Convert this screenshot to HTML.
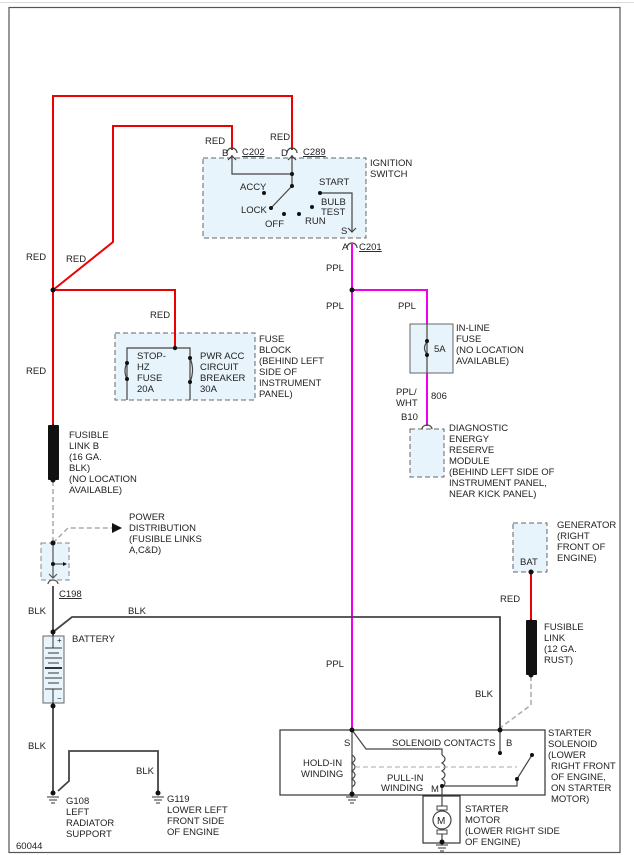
<!DOCTYPE html>
<html><head><style>
html,body{margin:0;padding:0;background:#fff;}
svg{display:block;}
text{font-family:"Liberation Sans",sans-serif;font-size:9.5px;fill:#222;}
.u{text-decoration:underline;}
</style></head><body>
<svg width="634" height="855" viewBox="0 0 634 855" xmlns="http://www.w3.org/2000/svg">
<rect x="0" y="0" width="634" height="855" fill="#fff"/>
<line x1="0" y1="2.5" x2="634" y2="2.5" stroke="#ddd" stroke-width="1"/>
<rect x="9" y="7.5" width="611" height="845" fill="none" stroke="#555" stroke-width="1.2"/>

<!-- boxes -->
<rect x="203" y="158" width="163" height="80" fill="#e8f4fb" stroke="#666" stroke-dasharray="5,3"/>
<rect x="115" y="333" width="140" height="67" fill="#e8f4fb" stroke="#666" stroke-dasharray="5,3"/>
<rect x="410" y="324" width="43" height="49" fill="#e8f4fb" stroke="#666"/>
<rect x="410" y="429" width="34" height="48" fill="#e8f4fb" stroke="#666" stroke-dasharray="5,3"/>
<rect x="41" y="543" width="28" height="37" fill="#e8f4fb" stroke="#888" stroke-dasharray="5,3"/>
<rect x="513" y="523" width="34" height="49" fill="#e8f4fb" stroke="#666" stroke-dasharray="5,3"/>
<rect x="43" y="636" width="21" height="67" fill="#e8f4fb" stroke="#666"/>
<rect x="280" y="730" width="265" height="65" fill="#fff" stroke="#333" stroke-width="1.2"/>
<rect x="423" y="796" width="37" height="47" fill="#fff" stroke="#333" stroke-width="1.2"/>

<!-- red wires -->
<g stroke="#e00" stroke-width="2" fill="none">
<polyline points="53,290 53,96 292,96 292,150"/>
<polyline points="53,290 113,242 113,126 232,126 232,150"/>
<polyline points="53,290 175,290 175,348"/>
<line x1="53" y1="290" x2="53" y2="427"/>
<line x1="531" y1="572" x2="531" y2="622"/>
</g>
<!-- purple -->
<g stroke="#e0e" stroke-width="2" fill="none">
<line x1="352" y1="244" x2="352" y2="730"/>
<polyline points="352,290 427,290 427,324"/>
<line x1="427" y1="373" x2="427" y2="426"/>
</g>
<!-- fusible links -->
<rect x="48" y="425" width="11" height="55" fill="#111" rx="1"/>
<rect x="526" y="620" width="11" height="55" fill="#111" rx="1"/>
<!-- gray dashed -->
<g stroke="#aaa" stroke-width="1.5" fill="none" stroke-dasharray="5,3">
<line x1="53" y1="481" x2="53" y2="543"/>
<polyline points="53,543 68,528 112,528"/>
<polyline points="531,676 531,705 500,728"/>
</g>
<polygon points="112,523 122,528 112,533" fill="#111"/>
<!-- black wires -->
<g stroke="#444" stroke-width="1.8" fill="none">
<line x1="53" y1="586" x2="53" y2="636"/>
<polyline points="53,632 72,617 500,617 500,730"/>
<line x1="53" y1="703" x2="53" y2="793"/>
<polyline points="58,791 69,781 69,751 158,751 158,793"/>
</g>
<!-- ignition internals -->
<g stroke="#444" stroke-width="1.2" fill="none">
<polyline points="232,155 232,174 292,174 292,155"/>
<line x1="292" y1="174" x2="292" y2="186"/>
<line x1="292" y1="186" x2="271" y2="208"/>
<polyline points="320,193 352,193 352,232"/>
<path d="M227,153 a5,5 0 0 1 10,0 M287,153 a5,5 0 0 1 10,0 M347,248 a5,5 0 0 1 10,0"/>
<path d="M228,160 l4,-4 l4,4 M288,160 l4,-4 l4,4 M348,228 l4,4 l4,-4"/>
</g>
<g fill="#111">
<circle cx="292" cy="174" r="2"/><circle cx="292" cy="186" r="2"/>
<circle cx="264" cy="193" r="2"/><circle cx="271" cy="208" r="2"/>
<circle cx="284" cy="214" r="2"/><circle cx="299" cy="214" r="2"/>
<circle cx="312" cy="207" r="2"/><circle cx="320" cy="193" r="2"/>
<circle cx="53" cy="290" r="2.5"/><circle cx="352" cy="290" r="2.5"/>
</g>
<!-- fuse block internals -->
<g stroke="#444" stroke-width="1.2" fill="none">
<polyline points="127,400 127,348 190,348 190,400"/>
<path d="M127,363 q-4,8 0,16 M190,358 q5,12 0,24"/>
<line x1="427" y1="324" x2="427" y2="373"/>
<path d="M427,342 q-5,6 0,12"/>
<path d="M422,429 a5,4 0 0 1 10,0"/>
</g>
<g fill="#111">
<circle cx="175" cy="348" r="2.2"/><circle cx="127" cy="363" r="2"/><circle cx="127" cy="379" r="2"/>
<circle cx="190" cy="358" r="2"/><circle cx="190" cy="382" r="2"/>
<circle cx="427" cy="341" r="2"/><circle cx="427" cy="355" r="2"/>
</g>
<!-- C198 box internals -->
<g stroke="#555" stroke-width="1.2" fill="none">
<line x1="53" y1="543" x2="53" y2="578"/><line x1="53" y1="564" x2="64" y2="564"/>
<path d="M49,574 l4,4 l4,-4 M48,584 a5,4 0 0 1 10,0"/>
</g>
<polygon points="63,562 67,564 63,566" fill="#111"/>
<g fill="#111"><circle cx="53" cy="543" r="2.5"/><circle cx="53" cy="564" r="2"/><circle cx="53" cy="632" r="2.5"/><circle cx="53" cy="706" r="2.5"/>
<circle cx="531" cy="572" r="2.5"/><circle cx="531" cy="622" r="2.5"/><circle cx="531" cy="675" r="2.5"/>
<circle cx="48" cy="480" r="0"/><circle cx="53" cy="427" r="2.5"/><circle cx="53" cy="480" r="2.5"/></g>
<!-- battery plates -->
<g stroke="#333" stroke-width="1">
<line x1="53" y1="636" x2="53" y2="648"/><line x1="45" y1="648" x2="62" y2="648"/>
<line x1="48" y1="653" x2="59" y2="653"/><line x1="45" y1="658" x2="62" y2="658"/>
<line x1="48" y1="663" x2="59" y2="663"/><line x1="45" y1="668" x2="62" y2="668" stroke-width="2"/>
<line x1="48" y1="673" x2="59" y2="673"/><line x1="45" y1="678" x2="62" y2="678"/>
<line x1="48" y1="683" x2="59" y2="683"/><line x1="45" y1="689" x2="62" y2="689"/>
<line x1="53" y1="689" x2="53" y2="703"/>
</g>
<text x="57" y="643" style="font-size:8px">+</text><text x="57" y="701" style="font-size:8px">−</text>
<!-- grounds -->
<g stroke="#333" stroke-width="1">
<line x1="47" y1="797" x2="59" y2="797"/><line x1="49" y1="800" x2="57" y2="800"/><line x1="51" y1="803" x2="55" y2="803"/>
<line x1="152" y1="797" x2="164" y2="797"/><line x1="154" y1="800" x2="162" y2="800"/><line x1="156" y1="803" x2="160" y2="803"/>
<line x1="346" y1="797" x2="358" y2="797"/><line x1="348" y1="800" x2="356" y2="800"/><line x1="350" y1="803" x2="354" y2="803"/>
<line x1="436" y1="845" x2="448" y2="845"/><line x1="438" y1="848" x2="446" y2="848"/><line x1="440" y1="851" x2="444" y2="851"/>
</g>
<g fill="#111"><circle cx="53" cy="793" r="2.5"/><circle cx="158" cy="793" r="2.5"/></g>
<!-- solenoid internals -->
<g stroke="#444" stroke-width="1.2" fill="none">
<line x1="352" y1="730" x2="352" y2="795"/>
<polyline points="352,730 366,749 442,749 442,755"/>
<path d="M352,755 q6,4 0,8 q6,4 0,8 q6,4 0,8 q6,4 0,8"/>
<path d="M442,755 q6,4 0,8 q6,4 0,8 q6,4 0,8 q6,4 0,8"/>
<line x1="442" y1="787" x2="442" y2="843"/>
<polyline points="442,786 517,786 517,779"/>
<line x1="517" y1="779" x2="532" y2="755"/>
<line x1="500" y1="730" x2="500" y2="753"/>
</g>
<line x1="355" y1="767" x2="517" y2="767" stroke="#aaa" stroke-dasharray="5,3"/>
<g fill="#111"><circle cx="352" cy="730" r="2.5"/><circle cx="500" cy="730" r="2.5"/><circle cx="352" cy="794" r="2.5"/>
<circle cx="500" cy="753" r="2"/><circle cx="532" cy="755" r="2"/><circle cx="517" cy="779" r="2"/><circle cx="442" cy="786" r="2"/><circle cx="442" cy="842" r="2.5"/></g>
<!-- motor -->
<rect x="437" y="806" width="10" height="4" fill="#fff" stroke="#444"/>
<rect x="437" y="830" width="10" height="4" fill="#fff" stroke="#444"/>
<circle cx="442" cy="820" r="9" fill="#fff" stroke="#444" stroke-width="1.2"/>
<text x="437" y="824" style="font-size:10px">M</text>

<!-- labels -->
<text x="205" y="144">RED</text><text x="270" y="140">RED</text>
<text x="222" y="156">B</text><text x="242" y="155" class="u">C202</text>
<text x="281" y="156">D</text><text x="303" y="155" class="u">C289</text>
<text x="370" y="166">IGNITION</text><text x="370" y="177">SWITCH</text>
<text x="240" y="190">ACCY</text><text x="319" y="185">START</text>
<text x="321" y="205">BULB</text><text x="321" y="215">TEST</text>
<text x="241" y="213">LOCK</text><text x="265" y="227">OFF</text><text x="305" y="224">RUN</text>
<text x="341" y="234">S</text><text x="342" y="250">A</text><text x="359" y="250" class="u">C201</text>
<text x="26" y="260">RED</text><text x="66" y="262">RED</text><text x="26" y="374">RED</text>
<text x="150" y="318">RED</text>
<text x="326" y="271">PPL</text><text x="326" y="309">PPL</text><text x="398" y="309">PPL</text>
<text x="137" y="359">STOP-</text><text x="137" y="370">HZ</text><text x="137" y="381">FUSE</text><text x="137" y="392">20A</text>
<text x="200" y="359">PWR ACC</text><text x="200" y="370">CIRCUIT</text><text x="200" y="381">BREAKER</text><text x="200" y="392">30A</text>
<text x="259" y="342">FUSE</text><text x="259" y="353">BLOCK</text><text x="259" y="364">(BEHIND LEFT</text><text x="259" y="375">SIDE OF</text><text x="259" y="386">INSTRUMENT</text><text x="259" y="397">PANEL)</text>
<text x="434" y="352">5A</text>
<text x="456" y="331">IN-LINE</text><text x="456" y="342">FUSE</text><text x="456" y="353">(NO LOCATION</text><text x="456" y="364">AVAILABLE)</text>
<text x="396" y="395">PPL/</text><text x="396" y="406">WHT</text><text x="431" y="399">806</text><text x="401" y="420">B10</text>
<text x="449" y="431">DIAGNOSTIC</text><text x="449" y="442">ENERGY</text><text x="449" y="453">RESERVE</text><text x="449" y="464">MODULE</text><text x="449" y="475">(BEHIND LEFT SIDE OF</text><text x="449" y="486">INSTRUMENT PANEL,</text><text x="449" y="497">NEAR KICK PANEL)</text>
<text x="69" y="438">FUSIBLE</text><text x="69" y="449">LINK B</text><text x="69" y="460">(16 GA.</text><text x="69" y="471">BLK)</text><text x="69" y="482">(NO LOCATION</text><text x="69" y="493">AVAILABLE)</text>
<text x="129" y="520">POWER</text><text x="129" y="531">DISTRIBUTION</text><text x="129" y="542">(FUSIBLE LINKS</text><text x="129" y="553">A,C&amp;D)</text>
<text x="59" y="597" class="u">C198</text>
<text x="28" y="614">BLK</text><text x="128" y="614">BLK</text>
<text x="72" y="642">BATTERY</text>
<text x="28" y="749">BLK</text><text x="136" y="774">BLK</text>
<text x="66" y="804">G108</text><text x="66" y="815">LEFT</text><text x="66" y="826">RADIATOR</text><text x="66" y="837">SUPPORT</text>
<text x="167" y="802">G119</text><text x="167" y="813">LOWER LEFT</text><text x="167" y="824">FRONT SIDE</text><text x="167" y="835">OF ENGINE</text>
<text x="16" y="849">60044</text>
<text x="326" y="667">PPL</text>
<text x="557" y="528">GENERATOR</text><text x="557" y="539">(RIGHT</text><text x="557" y="550">FRONT OF</text><text x="557" y="561">ENGINE)</text>
<text x="520" y="565">BAT</text>
<text x="500" y="602">RED</text>
<text x="544" y="630">FUSIBLE</text><text x="544" y="641">LINK</text><text x="544" y="652">(12 GA.</text><text x="544" y="663">RUST)</text>
<text x="475" y="697">BLK</text>
<text x="548" y="736">STARTER</text><text x="548" y="747">SOLENOID</text><text x="548" y="758">(LOWER</text><text x="551" y="769">RIGHT FRONT</text><text x="551" y="780">OF ENGINE,</text><text x="551" y="791">ON STARTER</text><text x="551" y="802">MOTOR)</text>
<text x="344" y="746">S</text><text x="392" y="746">SOLENOID CONTACTS</text><text x="506" y="746">B</text>
<text x="303" y="766">HOLD-IN</text><text x="301" y="777">WINDING</text>
<text x="387" y="781">PULL-IN</text><text x="381" y="791">WINDING</text><text x="431" y="792">M</text>
<text x="465" y="812">STARTER</text><text x="465" y="823">MOTOR</text><text x="465" y="834">(LOWER RIGHT SIDE</text><text x="465" y="845">OF ENGINE)</text>
</svg>
</body></html>
